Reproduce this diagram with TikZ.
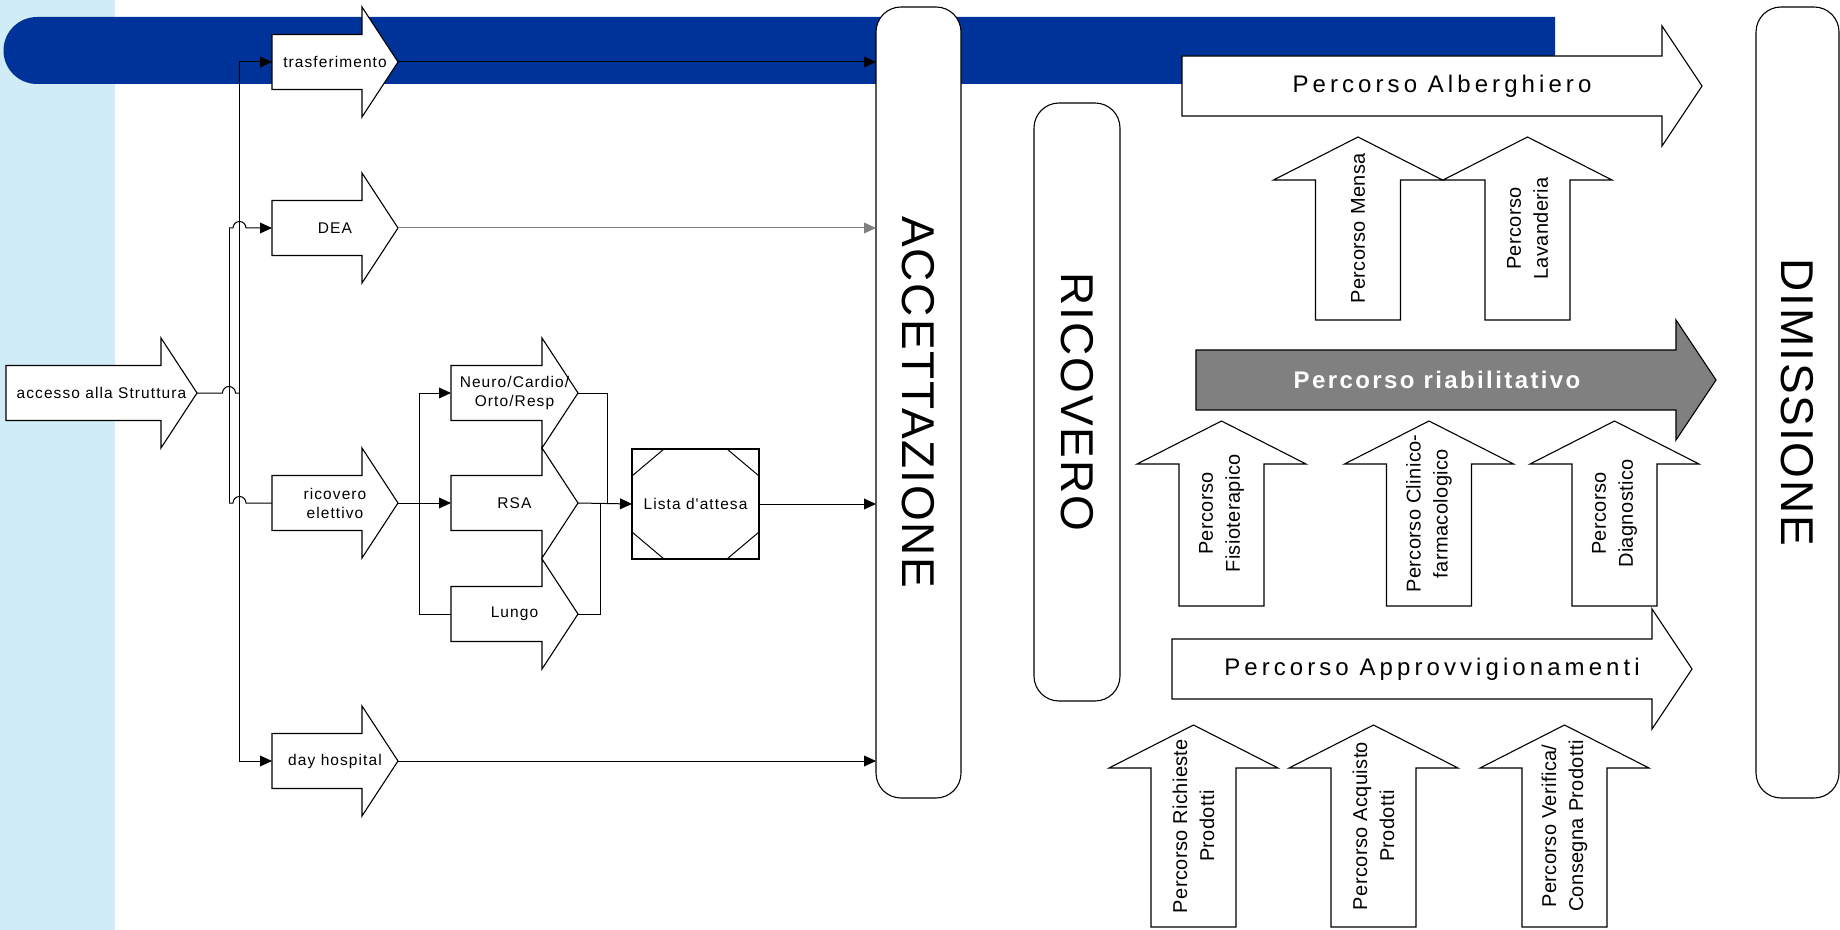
\documentclass[tikz,border=0pt]{standalone}
\usepackage{fontspec}
\setmainfont{Liberation Sans}
\usetikzlibrary{arrows.meta}

\newfontfamily\boxfont[LetterSpace=7]{Liberation Sans}
\newfontfamily\lanefont[LetterSpace=17]{Liberation Sans}
\newfontfamily\mainlanefont[LetterSpace=10]{Liberation Sans}
\newfontfamily\stagefont[LetterSpace=4]{Liberation Sans}
\newfontfamily\upfont[LetterSpace=2]{Liberation Sans}

\definecolor{stripblue}{RGB}{207,236,247}
\definecolor{bandblue}{RGB}{0,51,153}
\definecolor{lanegray}{RGB}{128,128,128}

% right-pointing block arrow: [style] name, tail x, tip x, axis y, label
\newcommand{\rarrow}[6][blockarrow]{%
  \draw[#1] (#3,#5-\shaft) -- (#4-\headl,#5-\shaft) -- (#4-\headl,#5-\headw)
    -- (#4,#5) -- (#4-\headl,#5+\headw) -- (#4-\headl,#5+\shaft)
    -- (#3,#5+\shaft) -- cycle;
  \node[arrowtext, minimum width={(#4-#3)*0.5pt}, minimum height={\headw*1pt}]
    (#2) at ({(#3+#4)/2},#5) {#6};
}
% upward block arrow: [style] name, axis x, tail y, tip y, label
\newcommand{\uarrow}[6][blockarrow]{%
  \draw[#1] (#3-\shaft,#4) -- (#3-\shaft,#5+\headl) -- (#3-\headw,#5+\headl)
    -- (#3,#5) -- (#3+\headw,#5+\headl) -- (#3+\shaft,#5+\headl)
    -- (#3+\shaft,#4) -- cycle;
  \node[arrowtext, rotate=90] (#2) at (#3,{(#4+#5)/2}) {#6};
}

\begin{document}
\begin{tikzpicture}[
  x=0.5pt, y=-0.5pt,
  blockarrow/.style={draw=black, fill=white, line width=0.55pt},
  darkarrow/.style={draw=black, fill=lanegray, line width=0.55pt},
  arrowtext/.style={inner sep=0pt, outer sep=0pt, align=center},
  stage/.style={draw=black, fill=white, line width=0.55pt, rounded corners=12.5pt,
    inner sep=0pt, outer sep=0pt, font=\stagefont\fontsize{23}{26}\selectfont},
  listbox/.style={draw=black, fill=white, line width=0.55pt, inner sep=0pt, outer sep=0pt,
    minimum width=63.5pt, minimum height=55pt, font=\boxfont\fontsize{7.75}{9.5}\selectfont},
  link/.style={line width=0.5pt},
  flow/.style={link, -{Triangle[length=6pt,width=5.4pt]}},
  small arrows/.code={\def\shaft{27.5}\def\headw{55}\def\headl{36}},
  lane arrows/.code={\def\shaft{30}\def\headw{60}\def\headl{40}},
  up arrows/.code={\def\shaft{42.5}\def\headw{84.5}\def\headl{43}}
]
\useasboundingbox (0,0) rectangle (1840,930);

% ---- background: side strip and title band ----
\fill[stripblue] (0,0) rectangle (115,930);
\fill[bandblue] (1555,17) -- (37,17) arc[start angle=90, end angle=270, radius=16.75pt]
  -- (1555,84) -- cycle;

% ---- access paths (left) ----
\begin{scope}[small arrows, nodes={font=\boxfont\fontsize{7.75}{9.5}\selectfont}]
  \rarrow{acc}{6}{197}{393}{accesso alla Struttura}
  \rarrow{tras}{272}{398}{62}{trasferimento}
  \rarrow{dea}{272}{398}{228}{DEA}
  \rarrow{ricel}{272}{398}{503}{ricovero\\elettivo}
  \rarrow{dayh}{272}{398}{761}{day hospital}
  \rarrow{neuro}{451}{578}{393}{Neuro/Cardio/\\Orto/Resp}
  \rarrow{rsa}{451}{578}{503}{RSA}
  \rarrow{lungo}{451}{578}{614}{Lungo}
\end{scope}

\node[listbox] (lista) at (695.5,504) {Lista d'attesa};
\draw[link] ([yshift=-13.5pt]lista.north west) -- ([xshift=16pt]lista.north west)
  ([xshift=-16pt]lista.north east) -- ([yshift=-13.5pt]lista.north east)
  ([yshift=13.5pt]lista.south west) -- ([xshift=16pt]lista.south west)
  ([xshift=-16pt]lista.south east) -- ([yshift=13.5pt]lista.south east);

% ---- stages ----
\node[stage, minimum width=42.5pt, minimum height=395.5pt] (accett) at (918.5,402.5)
  {\rotatebox{-90}{ACCETTAZIONE}};
\node[stage, minimum width=43pt, minimum height=299pt] (ricov) at (1077,402)
  {\rotatebox{-90}{RICOVERO}};
\node[stage, minimum width=41.5pt, minimum height=395.5pt] (dimiss) at (1797.5,402.5)
  {\rotatebox{-90}{DIMISSIONE}};

% ---- connectors ----
\coordinate (busl) at (229,393);
\coordinate (busr) at (239,393);
\coordinate (fork) at (419,503);
\coordinate (joinup) at (607,503);
\coordinate (joindown) at (600,503);

\draw[link] (acc.east) -- ++(25.5,0) arc[start angle=180, end angle=0, radius=3.25pt] -- (busr);
\draw[flow] (busr) |- (tras.west);
\draw[flow] (busr) |- (dayh.west);
\draw[link] (busl |- dea.west) -- (busl |- ricel.west);
\draw[flow] (busl |- dea.west) -- ++(4,0) arc[start angle=180, end angle=0, radius=3.25pt]
  -- (dea.west);
\draw[link] (busl |- ricel.west) -- ++(4,0) arc[start angle=180, end angle=0, radius=3.25pt]
  -- (ricel.west);

\draw[flow] (ricel.east) -- (rsa.west);
\draw[flow] (fork) |- (neuro.west);
\draw[link] (fork) |- (lungo.west);
\draw[link] (neuro.east) -| (joinup);
\draw[link] (lungo.east) -| (joindown);
\draw[flow] (rsa.east) -- (lista.west);

\draw[flow] (tras.east) -- (tras.east -| accett.west);
\draw[flow, draw=black!50] (dea.east) -- (dea.east -| accett.west);
\draw[flow] (lista.east) -- (lista.east -| accett.west);
\draw[flow] (dayh.east) -- (dayh.east -| accett.west);

% ---- care paths (right) ----
\begin{scope}[lane arrows, nodes={font=\lanefont\fontsize{12}{14}\selectfont}]
  \rarrow{alberg}{1182}{1702}{86}{Percorso Alberghiero}
  \rarrow[darkarrow]{riab}{1196}{1716}{380}{\hspace*{-19pt}\mainlanefont\bfseries\color{white}Percorso riabilitativo}
  \rarrow{approv}{1172}{1692}{669}{Percorso Approvvigionamenti}
\end{scope}

\begin{scope}[up arrows, nodes={font=\upfont\fontsize{10}{13.5}\selectfont}]
  \uarrow{mensa}{1358}{320}{137}{Percorso Mensa}
  \uarrow{lavand}{1527.5}{320}{137}{Percorso\\Lavanderia}
  \uarrow{fisio}{1221.5}{606}{421}{Percorso\\Fisioterapico}
  \uarrow{clinico}{1429}{606}{421}{Percorso Clinico-\\farmacologico}
  \uarrow{diagn}{1614.5}{606}{421}{Percorso\\Diagnostico}
  \uarrow{richieste}{1193.5}{927}{725}{Percorso Richieste\\Prodotti}
  \uarrow{acquisto}{1373.5}{927}{725}{Percorso Acquisto\\Prodotti}
  \uarrow{verifica}{1564.5}{927}{725}{Percorso Verifica/\\Consegna Prodotti}
\end{scope}
\end{tikzpicture}
\end{document}
